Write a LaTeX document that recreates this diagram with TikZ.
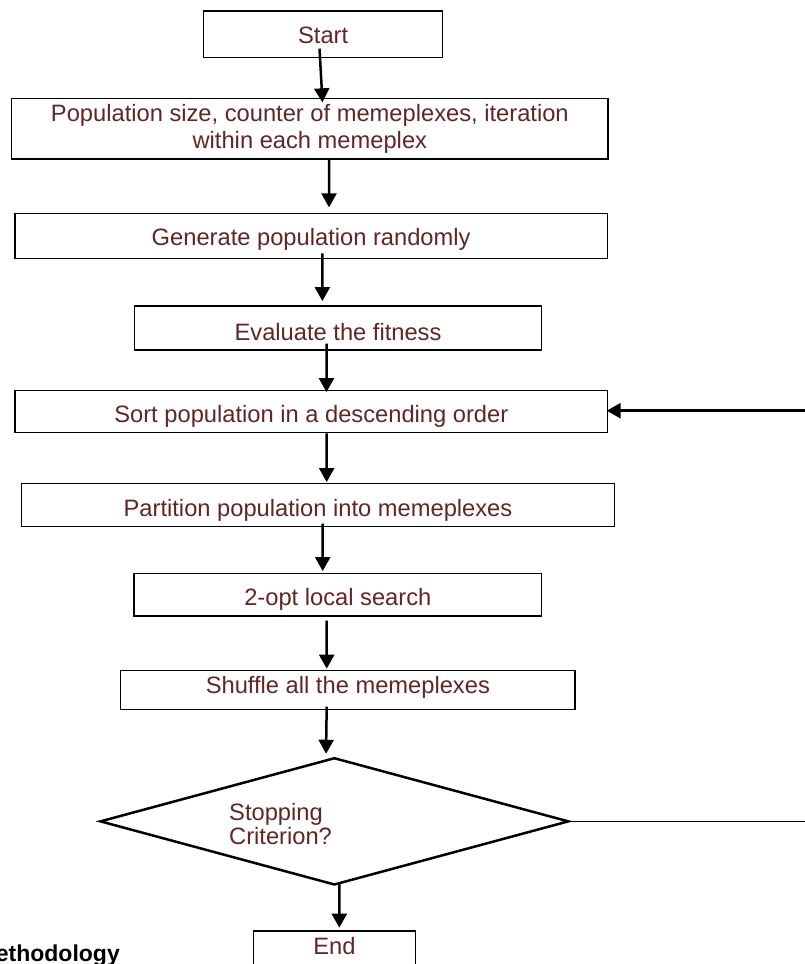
\documentclass[tikz,border=0pt]{standalone}
\usepackage{fontspec}
\setmainfont{Liberation Sans}
\usetikzlibrary{arrows.meta,shapes.geometric}
\definecolor{txt}{RGB}{99,37,35}
\begin{document}
\begin{tikzpicture}[x=1bp,y=-1bp,
  box/.style={draw=black, line width=1.3bp, rectangle, inner sep=0pt, text=txt,
    font=\fontsize{23.7bp}{26.6bp}\selectfont, text depth=0pt},
  flow/.style={line width=2.5bp, -{Triangle[length=14bp,width=15bp]}},
  plain/.style={line width=1.2bp},
  lbl/.style={text=txt, font=\fontsize{23.7bp}{24bp}\selectfont, inner sep=0pt},
]
\useasboundingbox (0,0) rectangle (805,964);
\clip (0,0) rectangle (805,964);

\node[box, minimum width=238.7bp, minimum height=46.7bp, text height=17.9bp] (start) at (323.15,34.35) {Start};
\node[box, minimum width=596.3bp, minimum height=60.7bp, align=center, text height=39.3bp, text depth=0bp] (pop) at (309.85,128.65) {Population size, counter of memeplexes, iteration\\within each memeplex};
\node[box, minimum width=592.3bp, minimum height=45bp, text height=18.4bp] (gen) at (311.15,235.8) {Generate population randomly};
\node[box, minimum width=407.1bp, minimum height=44bp, text height=24bp] (eval) at (338.05,328) {Evaluate the fitness};
\node[box, minimum width=592.7bp, minimum height=42bp, text height=22bp] (sort) at (311.35,411.7) {Sort population in a descending order};
\node[box, minimum width=592.6bp, minimum height=43.4bp, text height=23.4bp] (part) at (318,505) {Partition population into memeplexes};
\node[box, minimum width=407.7bp, minimum height=42.7bp, text height=20.7bp] (opt) at (337.85,594.65) {2-opt local search};
\node[box, minimum width=454.3bp, minimum height=38.6bp, text height=6.6bp] (shuf) at (347.85,690) {Shuffle all the memeplexes};
\node[draw=black, line width=2.5bp, diamond, minimum width=468.8bp, minimum height=127.3bp, inner sep=0pt] (stop) at (334.4,821.35) {};
\node[lbl, align=left, anchor=base west] (stopt) at (229,844) {Stopping\\Criterion?};
\node[box, minimum width=162.4bp, minimum height=46bp, text height=0pt] (end) at (334.5,954) {End};
\node[font=\fontsize{23bp}{26bp}\selectfont\bfseries, anchor=base east, inner sep=0pt] (meth) at (120,961.5) {ethodology};

\coordinate (fbin) at (805,410.7);
\coordinate (fbout) at (805,820.7);

\draw[flow] ([xshift=-3.65bp,yshift=9.7bp]start.south) -- ([xshift=12.65bp,yshift=-4.7bp]pop.north);
\draw[flow] ([xshift=19.15bp]pop.south) -- ([xshift=17.85bp,yshift=5.3bp]gen.north);
\draw[flow] ([xshift=11.25bp,yshift=5.6bp]gen.south) -- ([xshift=-15.65bp,yshift=4.3bp]eval.north);
\draw[flow] ([xshift=-11.55bp,yshift=7bp]eval.south) -- ([xshift=15.15bp,yshift=-2bp]sort.north);
\draw[flow] ([xshift=15.35bp]sort.south) -- ([xshift=8.7bp,yshift=0.6bp]part.north);
\draw[flow] ([xshift=4.7bp,yshift=3.7bp]part.south) -- ([xshift=-15.15bp,yshift=1.6bp]opt.north);
\draw[flow] ([xshift=-11.15bp,yshift=-4bp]opt.south) -- ([xshift=-21.15bp,yshift=1.4bp]shuf.north);
\draw[flow] ([xshift=-21.15bp,yshift=3.3bp]shuf.south) -- ([xshift=-8.4bp,yshift=2.7bp]stop.north);
\draw[flow] ([xshift=4.9bp,yshift=4bp]stop.south) -- ([xshift=4.8bp,yshift=2.7bp]end.north);
\draw[flow] (fbin) -- ([xshift=-1.7bp,yshift=1bp]sort.east);
\draw[plain] (stop.east) -- (stop.east -| fbout);
\end{tikzpicture}
\end{document}
